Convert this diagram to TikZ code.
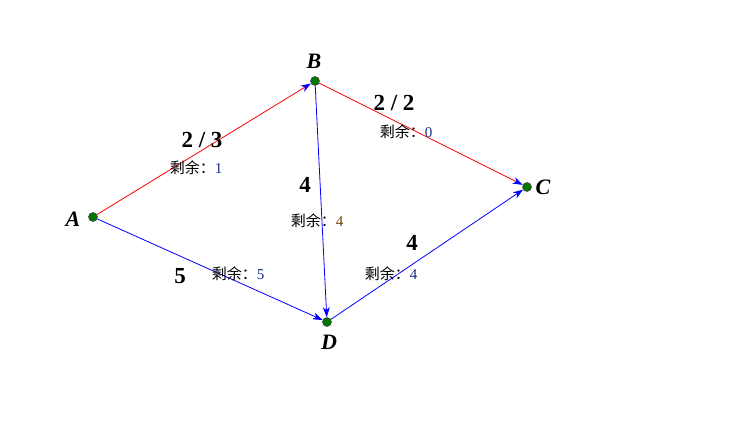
\documentclass[tikz,border=0pt]{standalone}
\usepackage{fontspec}
\setmainfont{Liberation Serif}
\newfontfamily\cjkfont{Noto Sans CJK SC}
\usetikzlibrary{arrows.meta}

\definecolor{dotgreen}{RGB}{0,120,0}
\definecolor{numblue}{RGB}{20,45,130}
\definecolor{numbrown}{RGB}{110,70,10}

\begin{document}
\begin{tikzpicture}[x=1pt,y=-1pt,line width=0.8pt,
  vertex/.style={circle,fill=dotgreen,draw=black!70,line width=0.6pt,inner sep=0pt,minimum size=9pt},
  vname/.style={font=\fontsize{22}{22}\selectfont\bfseries\itshape},
  capnum/.style={font=\fontsize{23}{23}\selectfont\bfseries},
  rest/.style={font=\fontsize{15}{15}\selectfont},
  fulledge/.style={draw=red,-{Stealth[blue,length=10pt,width=7pt,inset=3pt]}},
  openedge/.style={draw=blue,-{Stealth[blue,length=10pt,width=7pt,inset=3pt]}}]
  \useasboundingbox (0,0) rectangle (748,425);
  % Vertices
  \node[vertex] (A) at (93,217) {};
  \node[vertex] (B) at (315,81) {};
  \node[vertex] (C) at (527,187) {};
  \node[vertex] (D) at (327,322) {};
  % Vertex names
  \node[vname] (nA) at (73,219) {A};
  \node[vname] (nB) at (314,61) {B};
  \node[vname] (nC) at (543,187) {C};
  \node[vname] (nD) at (329,342) {D};
  % Edges
  \draw[fulledge] (A) -- (B);
  \draw[fulledge] (B) -- (C);
  \draw[openedge] (A) -- (D);
  \draw[openedge] (B) -- (D);
  \draw[openedge] (D) -- (C);
  % Capacities
  \node[capnum] (cAB) at (202,140) {2 / 3};
  \node[capnum] (cBC) at (394,103) {2 / 2};
  \node[capnum] (cBD) at (305,185) {4};
  \node[capnum] (cAD) at (180,276) {5};
  \node[capnum] (cDC) at (412,243) {4};
  % Remaining
  \node[rest] (rAB) at (196,168) {{\cjkfont 剩余：}\textcolor{numblue}{1}};
  \node[rest] (rBC) at (406,132) {{\cjkfont 剩余：}\textcolor{numblue}{0}};
  \node[rest] (rBD) at (317,221) {{\cjkfont 剩余：}\textcolor{numbrown}{4}};
  \node[rest] (rAD) at (238,274) {{\cjkfont 剩余：}\textcolor{numblue}{5}};
  \node[rest] (rDC) at (391,274) {{\cjkfont 剩余：}\textcolor{numblue}{4}};
\end{tikzpicture}
\end{document}
